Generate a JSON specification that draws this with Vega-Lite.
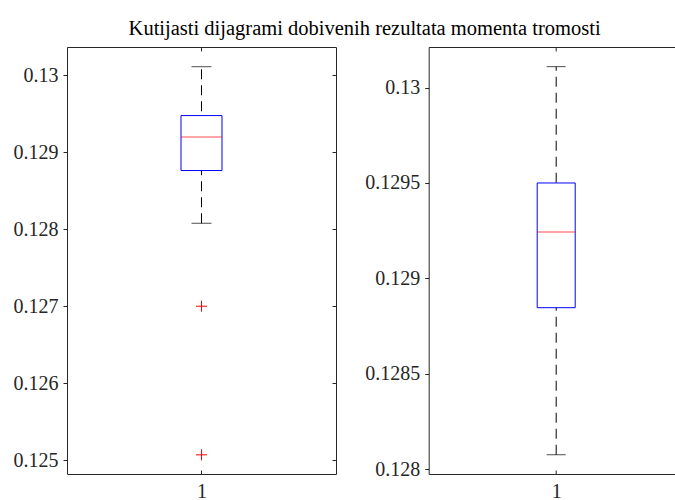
{
  "$schema": "https://vega.github.io/schema/vega-lite/v6.json",
  "padding": {"left": 12, "top": 18, "right": 0, "bottom": 0},
  "background": "white",
  "title": {"text": "Kutijasti dijagrami dobivenih rezultata momenta tromosti", "font": "Liberation Serif", "fontSize": 20.5, "fontWeight": "normal", "color": "#000000", "anchor": "middle", "offset": 7, "dx": 16},
  "datasets": {
    "left": [{"g": 1, "lo": 0.128078, "q1": 0.128763, "med": 0.129199, "q3": 0.129477, "hi": 0.130112}],
    "leftOut": [{"g": 1, "v": 0.127}, {"g": 1, "v": 0.125069}],
    "right": [{"g": 1, "lo": 0.128075, "q1": 0.128846, "med": 0.129243, "q3": 0.1295, "hi": 0.13011}]
  },
  "config": {
    "view": {"stroke": "#262626", "strokeWidth": 1},
    "axis": {"labelFont": "Liberation Serif", "labelFontSize": 20, "labelColor": "#262626", "tickColor": "#262626", "grid": false, "domain": false, "title": null, "labelPadding": 5, "tickSize": 4}
  },
  "spacing": 92.7,
  "bounds": "flush",
  "hconcat": [
    {
      "width": 269,
      "height": 427,
      "data": {"name": "left"},
      "resolve": {"axis": {"x": "independent", "y": "independent"}},
      "layer": [
        {
          "mark": {"type": "rule", "color": "#000000", "strokeDash": [10, 6], "strokeWidth": 1},
          "encoding": {
            "x": {"field": "g", "type": "quantitative", "scale": {"domain": [0.5, 1.5]}, "axis": {"orient": "bottom", "values": [1], "format": "d", "tickSize": -4, "labelPadding": 11}},
            "y": {"field": "lo", "type": "quantitative", "scale": {"domain": [0.12482, 0.130368], "nice": false, "zero": false}, "axis": {"orient": "left", "values": [0.125, 0.126, 0.127, 0.128, 0.129, 0.13], "format": "~g"}},
            "y2": {"field": "hi"}
          }
        },
        {
          "mark": {"type": "bar", "size": 41, "fill": "white", "stroke": "#0000FF", "strokeWidth": 1},
          "encoding": {
            "x": {"field": "g", "type": "quantitative", "axis": {"orient": "top", "values": [1], "labels": false, "tickSize": -4}},
            "y": {"field": "q1", "type": "quantitative", "axis": {"orient": "right", "values": [0.125, 0.126, 0.127, 0.128, 0.129, 0.13], "labels": false, "tickSize": -4}},
            "y2": {"field": "q3"}
          }
        },
        {
          "mark": {"type": "tick", "orient": "horizontal", "size": 41, "thickness": 1, "color": "#FF0000"},
          "encoding": {
            "x": {"field": "g", "type": "quantitative", "axis": null},
            "y": {"field": "med", "type": "quantitative", "axis": null}
          }
        },
        {
          "mark": {"type": "tick", "orient": "horizontal", "size": 20, "thickness": 1, "color": "#000000"},
          "encoding": {
            "x": {"field": "g", "type": "quantitative", "axis": null},
            "y": {"field": "hi", "type": "quantitative", "axis": null}
          }
        },
        {
          "mark": {"type": "tick", "orient": "horizontal", "size": 20, "thickness": 1, "color": "#000000"},
          "encoding": {
            "x": {"field": "g", "type": "quantitative", "axis": null},
            "y": {"field": "lo", "type": "quantitative", "axis": null}
          }
        },
        {
          "data": {"name": "leftOut"},
          "mark": {"type": "point", "shape": "M-1,0L1,0M0,-1L0,1", "size": 121, "filled": false, "stroke": "#FF0000", "strokeWidth": 1, "opacity": 1},
          "encoding": {
            "x": {"field": "g", "type": "quantitative", "axis": null},
            "y": {"field": "v", "type": "quantitative", "axis": null}
          }
        }
      ]
    },
    {
      "width": 255,
      "height": 427,
      "data": {"name": "right"},
      "resolve": {"axis": {"x": "independent", "y": "independent"}},
      "layer": [
        {
          "mark": {"type": "rule", "color": "#000000", "strokeDash": [10, 6], "strokeWidth": 1},
          "encoding": {
            "x": {"field": "g", "type": "quantitative", "scale": {"domain": [0.5, 1.5]}, "axis": {"orient": "bottom", "values": [1], "format": "d", "tickSize": -4, "labelPadding": 11}},
            "y": {"field": "lo", "type": "quantitative", "scale": {"domain": [0.127974, 0.130213], "nice": false, "zero": false}, "axis": {"orient": "left", "values": [0.128, 0.1285, 0.129, 0.1295, 0.13], "format": "~g"}},
            "y2": {"field": "hi"}
          }
        },
        {
          "mark": {"type": "bar", "size": 38, "fill": "white", "stroke": "#0000FF", "strokeWidth": 1},
          "encoding": {
            "x": {"field": "g", "type": "quantitative", "axis": {"orient": "top", "values": [1], "labels": false, "tickSize": -4}},
            "y": {"field": "q1", "type": "quantitative", "axis": {"orient": "right", "values": [0.128, 0.1285, 0.129, 0.1295, 0.13], "labels": false, "tickSize": -4}},
            "y2": {"field": "q3"}
          }
        },
        {
          "mark": {"type": "tick", "orient": "horizontal", "size": 38, "thickness": 1, "color": "#FF0000"},
          "encoding": {
            "x": {"field": "g", "type": "quantitative", "axis": null},
            "y": {"field": "med", "type": "quantitative", "axis": null}
          }
        },
        {
          "mark": {"type": "tick", "orient": "horizontal", "size": 19, "thickness": 1, "color": "#000000"},
          "encoding": {
            "x": {"field": "g", "type": "quantitative", "axis": null},
            "y": {"field": "hi", "type": "quantitative", "axis": null}
          }
        },
        {
          "mark": {"type": "tick", "orient": "horizontal", "size": 19, "thickness": 1, "color": "#000000"},
          "encoding": {
            "x": {"field": "g", "type": "quantitative", "axis": null},
            "y": {"field": "lo", "type": "quantitative", "axis": null}
          }
        }
      ]
    }
  ]
}
